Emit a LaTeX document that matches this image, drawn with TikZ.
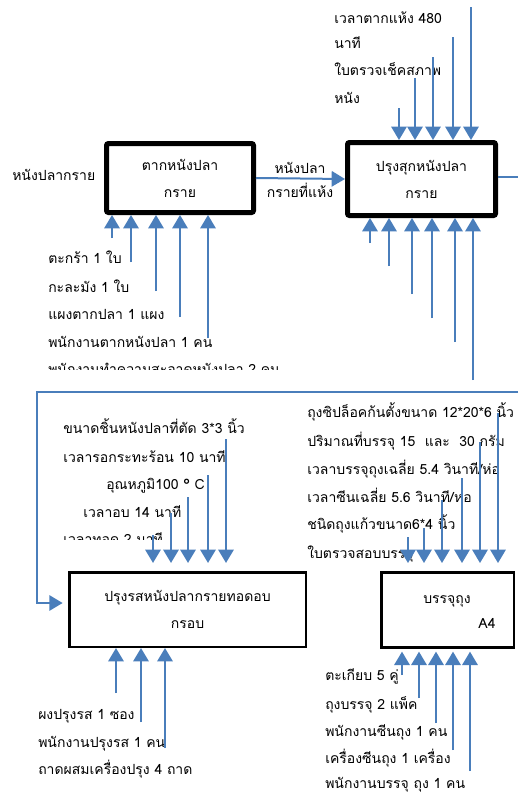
\documentclass[tikz,border=0pt]{standalone}
\usepackage{fontspec}
\setmainfont{Loma}[Script=Thai]
\usetikzlibrary{arrows.meta,calc}
\definecolor{arrblue}{HTML}{4A7EBB}
\newcommand\slsh{/}
\tikzset{
  thickbox/.style={draw=black,line width=3.75pt,rounded corners=1.5pt,inner sep=0pt,align=center,
    font=\fontsize{10.5pt}{20.25pt}\selectfont},
  thinbox/.style={draw=black,line width=1.9pt,inner sep=0pt,align=center,
    font=\fontsize{10.5pt}{20.25pt}\selectfont},
  lbl/.style={anchor=base west,inner sep=0pt,font=\fontsize{10.5pt}{12pt}\selectfont},
  clbl/.style={anchor=base,inner sep=0pt,font=\fontsize{10.5pt}{12pt}\selectfont},
  arr/.style={draw=arrblue,line width=1.5pt,-{Triangle[width=11.5pt,length=10pt]}},
  ln/.style={draw=arrblue,line width=1.5pt},
}
\begin{document}
\begin{tikzpicture}[x=0.75pt,y=-0.75pt]
\useasboundingbox[fill=white] (0,0) rectangle (518,793);

% boxes
\node[thickbox,minimum width=110.25pt,minimum height=51.75pt] (b1) at (180,178) {ตากหนังปลา\\กราย};
\node[thickbox,minimum width=111pt,minimum height=54.75pt] (b2) at (421.5,179) {ปรุงสุกหนังปลา\\กราย};
\node[thinbox,minimum width=177.4pt,minimum height=55.9pt] (b3) at (187.5,609.5) {ปรุงรสหนังปลากรายทอดอบ\\กรอบ};
\node[thinbox,minimum width=99.4pt,minimum height=56.6pt] (b4) at (447.5,610) {};
\node[clbl] (b4t) at (447,603) {บรรจุถุง};
\node[clbl] (b4a) at (487,628) {A4};

% input label
\node[lbl] (in1) at (12,180) {หนังปลากราย};

% box1 -> box2
\draw[arr] (b1.east) -- (b2.west);
\node[clbl] (m1) at (300,173) {หนังปลา};
\node[clbl] (m2) at (300,197) {กรายที่แห้ง};

% box2 output
\coordinate (o2) at (518,177);
\draw[ln] (b2.east |- o2) -- (o2);

% feedback
\coordinate (fbR) at (518,392);
\coordinate (fbL) at (37,392);
\coordinate (fbD) at (37,603);
\draw[arr,shorten >=4pt] (fbR) -- (fbL) -- (fbD) -- (fbD -| b3.west);

% labels box1 bottom
\foreach \t/\y [count=\i] in {ตะกร้า 1 ใบ/258,กะละมัง 1 ใบ/287,แผงตากปลา 1 แผง/314,พนักงานตากหนังปลา 1 คน/342}
  \node[lbl] (l1\i) at (48,\y+5) {\t};
\begin{scope}
\clip (0,0) rectangle (518,369);
\node[lbl] (l15) at (48,374) {พนักงานทำความสะอาดหนังปลา 2 คน};
\end{scope}

% labels box2 top
\foreach \t/\y [count=\i] in {เวลาตากแห้ง 480/18,นาที/43,ใบตรวจเช็คสภาพ/70,หนัง/98}
  \node[lbl] (l2\i) at (334,\y+5) {\t};

% labels box3 top
\foreach \t/\x/\y [count=\i] in {ขนาดชิ้นหนังปลาที่ตัด 3*3 นิ้ว/63/428,เวลารอกระทะร้อน 10 นาที/63/457,อุณหภูมิ100 ° C/106/484,เวลาอบ 14 นาที/83/512}
  \node[lbl] (l3\i) at (\x,\y+5) {\t};
\begin{scope}
\clip (0,0) rectangle (518,539);
\node[lbl] (l35) at (63,544) {เวลาทอด 2 นาที};
\end{scope}

% labels box3 bottom
\foreach \t/\y [count=\i] in {ผงปรุงรส 1 ซอง/714,พนักงานปรุงรส 1 คน/742,ถาดผสมเครื่องปรุง 4 ถาด/769}
  \node[lbl] (l4\i) at (38,\y+5) {\t};

% labels box4 top
\foreach \t/\y [count=\i] in {ถุงซิปล็อคก้นตั้งขนาด 12*20*6 นิ้ว/412,ปริมาณที่บรรจุ 15~ และ~ 30 กรัม/441,เวลาบรรจุถุงเฉลี่ย 5.4 วินาที\slsh ห่อ/469,เวลาซีนเฉลี่ย 5.6 วินาที\slsh ห่อ/497,ชนิดถุงแก้วขนาด6*4 นิ้ว/524,ใบตรวจสอบบรรจุ/553}
  \node[lbl] (l5\i) at (307,\y+5) {\t};

% labels box4 bottom
\foreach \t/\y [count=\i] in {ตะเกียบ 5 คู่/675,ถุงบรรจุ 2 แพ็ค/704,พนักงานซีนถุง 1 คน/731,เครื่องซีนถุง 1 เครื่อง/758,พนักงานบรรจุ ถุง 1 คน/783}
  \node[lbl] (l6\i) at (325,\y+5) {\t};

% arrows box1 bottom (up)
\foreach \x/\y [count=\i] in {112/238,131/262,156/291,180/317,208/338}{
  \coordinate (a1\i) at (\x,\y);
  \draw[arr] (a1\i) -- (a1\i |- b1.south);
}
% arrows box2 top (down)
\foreach \x/\y [count=\i] in {399/108,415/78,433/57,453/37,471/7}{
  \coordinate (a2\i) at (\x,\y);
  \draw[arr] (a2\i) -- (a2\i |- b2.north);
}
% arrows box2 bottom (up)
\foreach \x/\y [count=\i] in {370/243,389/266,412/294,432/318,455/342,473/380}{
  \coordinate (a3\i) at (\x,\y);
  \draw[arr] (a3\i) -- (a3\i |- b2.south);
}
% arrows box3 top (down)
\foreach \x/\y [count=\i] in {153/535,171/513,188/497,208/475,226/439}{
  \coordinate (a4\i) at (\x,\y);
  \draw[arr,shorten >=6pt] (a4\i) -- (a4\i |- b3.north);
}
% arrows box3 bottom (up)
\foreach \x/\y [count=\i] in {116/693,141/722,165/748}{
  \coordinate (a5\i) at (\x,\y);
  \draw[arr] (a5\i) -- (a5\i |- b3.south);
}
% arrows box4 top (down)
\foreach \x/\y [count=\i] in {408/537,424/528,442/500,462/478,480/442,498/413}{
  \coordinate (a6\i) at (\x,\y);
  \draw[arr,shorten >=6pt] (a6\i) -- (a6\i |- b4.north);
}
% arrows box4 bottom (up)
\foreach \x/\y [count=\i] in {402/675,419/698,436/723,453/750,470/771}{
  \coordinate (a7\i) at (\x,\y);
  \draw[arr,shorten >=2pt] (a7\i) -- (a7\i |- b4.south);
}
\end{tikzpicture}
\end{document}
